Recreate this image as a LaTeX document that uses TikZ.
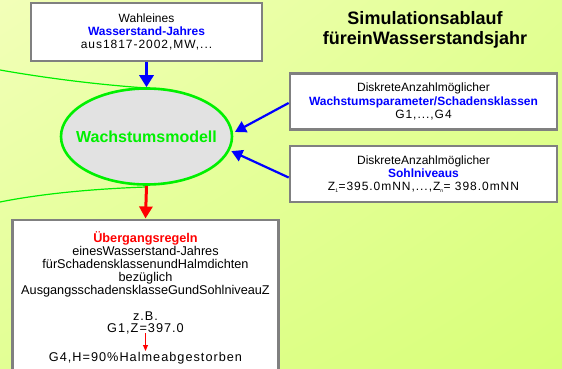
\documentclass[tikz,border=0pt]{standalone}
\usepackage{fontspec}
\setmainfont{Liberation Sans}
\usetikzlibrary{shapes.geometric,arrows.meta,calc,shadings}
\definecolor{bgA}{RGB}{242,255,184}
\definecolor{bgB}{RGB}{216,255,120}
\definecolor{bgM}{RGB}{226,255,148}
\definecolor{boxgray}{RGB}{128,128,128}
\definecolor{ellfill}{RGB}{226,226,226}
\definecolor{grn}{RGB}{0,240,0}
\definecolor{blu}{RGB}{0,0,255}
\definecolor{rd}{RGB}{255,0,0}
\newcommand{\spaced}[1]{{\addfontfeature{LetterSpace=8}#1}}
\tikzset{
  infobox/.style={draw=boxgray, line width=2.7pt, fill=white, align=center,
    inner sep=0pt, font=\fontsize{12}{13.3}\selectfont},
  bluearrow/.style={draw=blu, line width=2.2pt, -{Triangle[length=11pt,width=12pt]}},
}
\begin{document}
\begin{tikzpicture}[x=1pt,y=-1pt]
\useasboundingbox (0,0) rectangle (562,369);
\shade[upper left=bgA, lower right=bgB, upper right=bgM, lower left=bgM] (0,0) rectangle (562,369);

% stray green lines
\draw[grn, line width=1.2pt] (0,70) .. controls (40,77) and (90,84) .. (146,88);
\draw[grn, line width=1.2pt] (0,202) .. controls (40,194) and (90,189) .. (146,187);

\begin{scope}
\clip (0,0) rectangle (562,369);
\node[infobox, minimum width=231pt, minimum height=58pt] (top) at (146.5,32)
  {Wahleines\\ {\color{blu}\bfseries Wasserstand-Jahres}\\ \spaced{aus1817-2002,MW,...}};
\node[infobox, minimum width=267pt, minimum height=56pt] (b1) at (423.5,101.5)
  {DiskreteAnzahlmöglicher\\ {\color{blu}\bfseries Wachstumsparameter/Schadensklassen}\\ \spaced{G1,...,G4}};
\node[infobox, minimum width=267pt, minimum height=56pt] (b2) at (423.5,174)
  {DiskreteAnzahlmöglicher\\ {\color{blu}\bfseries Sohlniveaus}\\ \spaced{Z\textsubscript{\tiny 1}=395.0mNN,...,Z\textsubscript{\tiny n}= 398.0mNN}};
\node[infobox, minimum width=266pt, minimum height=150pt, anchor=north] (bot) at (145.5,218.5) {};
\end{scope}

\node[align=center, font=\fontsize{12.7}{12.3}\selectfont] (btxt) at (145.5,298)
  {{\color{rd}\bfseries Übergangsregeln}\\[1pt]
   einesWasserstand-Jahres\\
   fürSchadensklassenundHalmdichten\\[1.5pt]
   bezüglich\\
   AusgangsschadensklasseGundSohlniveauZ\\[14pt]
   \spaced{z.B.}\\
   \spaced{G1,Z=397.0}\\[16.5pt]
   \spaced{G4,H=90\%Halmeabgestorben}};
\coordinate (ra) at (145.5,333);
\coordinate (rb) at (145.5,351);
\draw[rd, line width=0.9pt, -{Triangle[length=6pt,width=5pt]}] (ra) -- (rb);

\node[ellipse, draw=grn, line width=2.6pt, fill=ellfill, minimum width=171pt,
  minimum height=96pt, inner sep=0pt] (ell) at (146.5,136.5) {};
\node[text=grn, font=\fontsize{16}{16}\selectfont\bfseries] (elltxt) at (ell.center) {Wachstumsmodell};

\node[align=center, font=\fontsize{18}{20}\selectfont\bfseries] (title) at (425,30)
  {Simulationsablauf\\ füreinWasserstandsjahr};

\draw[draw=blu, line width=3pt, -{Triangle[length=12pt,width=14pt]}] (top.south) -- (ell.north);
\draw[draw=rd, line width=3pt, -{Triangle[length=12pt,width=13pt]}] (ell.south) -- (bot.north);
\draw[bluearrow] ($(b1.west)+(0,1.5)$) -- ($(ell.3)+(2,0)$);
\draw[bluearrow] ($(b2.west)+(0,3.5)$) -- ($(ell.-10)+(2,0)$);
\end{tikzpicture}
\end{document}
